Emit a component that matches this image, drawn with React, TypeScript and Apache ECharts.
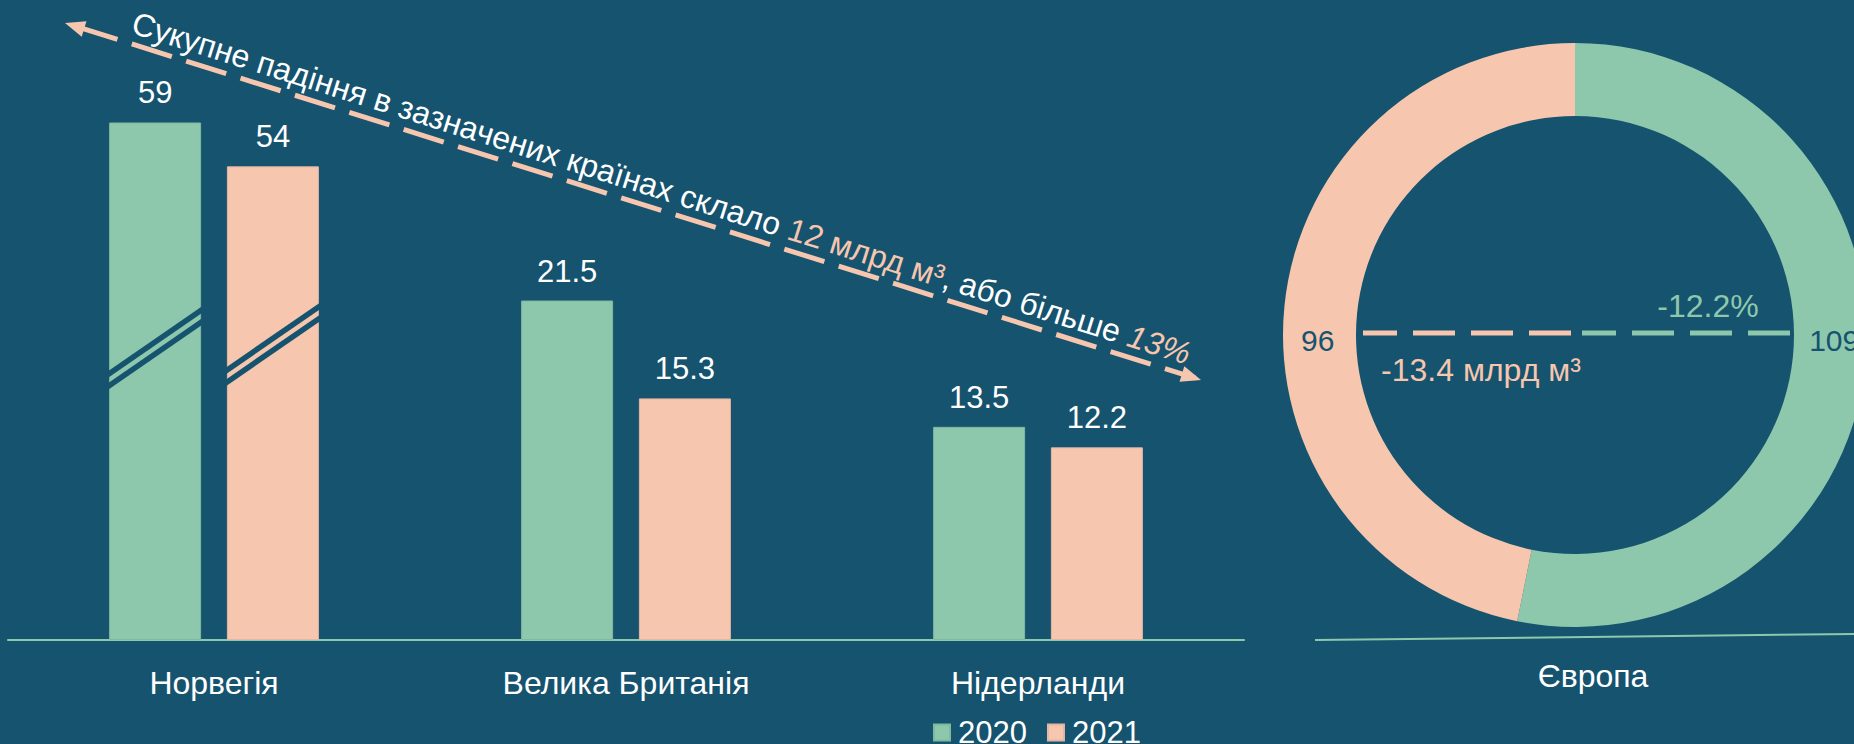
import React, { useEffect, useRef } from 'react';
import * as echarts from 'echarts';

// ---- data ----
const categories = ['Норвегія', 'Велика Британія', 'Нідерланди'];
const years = ['2020', '2021'];
const values2020 = [59, 21.5, 13.5];
const values2021 = [54, 15.3, 12.2];
const europeLabel = 'Європа';
const europeValues = [109, 96]; // 2020, 2021
const europeChangeAbs = '-13.4 млрд м³';
const europeChangePct = '-12.2%';
const annotationParts = ['Сукупне падіння в зазначених країнах склало ', '12 млрд м³', ', або більше ', '13%'];

// ---- styles ----
const BG = '#15536f';
const GREEN = '#8dc8ad';
const PEACH = '#f7c6ae';
const WHITE = '#ffffff';
const FONT = "'Liberation Sans', Arial, Helvetica, sans-serif";
const FS = 32;

const BAR_W = 92;
const PIE_CX = 1575;
const PIE_CY = 335;
const PIE_R0 = 219;
const PIE_R1 = 292;
const BREAK_AT = [33.3, 33.7];

function barLabel() {
  return { show: true, position: 'top', distance: 14, color: WHITE, fontSize: 31, fontFamily: FONT };
}

function catAxis(gridIndex: number, data: string[]) {
  return {
    type: 'category',
    gridIndex,
    data,
    axisLine: { show: true, lineStyle: { color: GREEN, width: 2 } },
    axisTick: { show: false },
    axisLabel: { color: WHITE, fontSize: FS, fontFamily: FONT, margin: 27 },
    splitLine: { show: false },
  };
}

function arrowHead(tx: number, ty: number, dx: number, dy: number, L: number, w: number) {
  const nx = -dy, ny = dx;
  const bx = tx + dx * L, by = ty + dy * L;
  return {
    type: 'polygon',
    silent: true,
    shape: { points: [[tx, ty], [bx + nx * w, by + ny * w], [bx - nx * w, by - ny * w]] },
    style: { fill: PEACH },
  };
}

export default function App() {
  const ref = useRef<HTMLDivElement>(null);

  useEffect(() => {
    if (!ref.current) return;
    const chart = echarts.init(ref.current, null, { renderer: 'svg' });

    const barCommon = { type: 'bar', barWidth: BAR_W, barGap: '28%' };
    const option: any = {
      animation: false,
      backgroundColor: BG,
      grid: [
        { left: 8, top: 26, width: 412, height: 614 },
        { left: 420, top: 40, width: 824, height: 600 },
      ],
      xAxis: [catAxis(0, categories.slice(0, 1)), catAxis(1, categories.slice(1))],
      yAxis: [
        { type: 'value', gridIndex: 0, min: 0, max: 70, show: false, splitLine: { show: false } },
        { type: 'value', gridIndex: 1, min: 0, max: 38, show: false, splitLine: { show: false } },
      ],
      legend: {
        data: years,
        left: 933,
        top: 717,
        padding: 0,
        icon: 'rect',
        itemWidth: 16,
        itemHeight: 16,
        itemGap: 20,
        selectedMode: false,
        textStyle: { color: WHITE, fontSize: 31, fontFamily: FONT, padding: [0, 0, 0, 3] },
      },
      series: [
        { ...barCommon, name: years[0], xAxisIndex: 0, yAxisIndex: 0, data: values2020.slice(0, 1),
          itemStyle: { color: GREEN, borderColor: '#7fb99f', borderWidth: 1 }, label: barLabel() },
        { ...barCommon, name: years[1], xAxisIndex: 0, yAxisIndex: 0, data: values2021.slice(0, 1),
          itemStyle: { color: PEACH, borderColor: '#e3b7a3', borderWidth: 1 }, label: barLabel() },
        { ...barCommon, name: years[0], xAxisIndex: 1, yAxisIndex: 1, data: values2020.slice(1),
          itemStyle: { color: GREEN, borderColor: '#7fb99f', borderWidth: 1 }, label: barLabel() },
        { ...barCommon, name: years[1], xAxisIndex: 1, yAxisIndex: 1, data: values2021.slice(1),
          itemStyle: { color: PEACH, borderColor: '#e3b7a3', borderWidth: 1 }, label: barLabel() },
        {
          type: 'pie',
          silent: true,
          center: [PIE_CX, PIE_CY],
          radius: [PIE_R0, PIE_R1],
          startAngle: 90,
          clockwise: true,
          avoidLabelOverlap: false,
          labelLine: { show: false },
          label: { show: true, position: 'inside', formatter: '{c}', color: BG, fontSize: 30, fontFamily: FONT },
          data: [
            { name: years[0], value: europeValues[0], itemStyle: { color: GREEN }, label: { offset: [2, -20] } },
            { name: years[1], value: europeValues[1], itemStyle: { color: PEACH }, label: { offset: [0, 31] } },
          ],
        },
      ],
    };
    chart.setOption(option);

    // graphics (annotations)
    const graphics: any[] = [];

    // Norway break marks
    const xc = chart.convertToPixel({ xAxisIndex: 0 } as any, categories[0]) as number;
    const half = (BAR_W + BAR_W * 0.28) / 2;
    [-half, half].forEach((off, i) => {
      const cx = xc + off;
      const ym = chart.convertToPixel({ yAxisIndex: 0 } as any, BREAK_AT[i]) as number;
      const ext = BAR_W / 2 + 4;
      const slope = 0.69;
      [-6, 6].forEach((dy) => {
        graphics.push({
          type: 'line',
          silent: true,
          z: 100,
          shape: { x1: cx - ext, y1: ym + dy + ext * slope, x2: cx + ext, y2: ym + dy - ext * slope },
          style: { stroke: BG, lineWidth: 5.5 },
        });
      });
    });

    // big dashed arrow
    const ax1 = 65, ay1 = 23, ax2 = 1201, ay2 = 380;
    const len = Math.hypot(ax2 - ax1, ay2 - ay1);
    const ux = (ax2 - ax1) / len, uy = (ay2 - ay1) / len;
    graphics.push({
      type: 'line', silent: true, z: 50,
      shape: { x1: ax1 + ux * 6, y1: ay1 + uy * 6, x2: ax2 - ux * 6, y2: ay2 - uy * 6 },
      style: { stroke: PEACH, lineWidth: 5, lineDash: [42, 15], lineDashOffset: 50 },
    });
    graphics.push({ ...arrowHead(ax1, ay1, ux, uy, 20, 8), z: 51 });
    graphics.push({ ...arrowHead(ax2, ay2, -ux, -uy, 20, 8), z: 51 });

    const ang = Math.atan2(ay2 - ay1, ax2 - ax1);
    graphics.push({
      type: 'text', silent: true, z: 52,
      x: 133, y: 22, rotation: -ang,
      style: {
        text: `{w|${annotationParts[0]}}{p|${annotationParts[1]}}{w|${annotationParts[2]}}{pi|${annotationParts[3]}}`,
        align: 'left',
        verticalAlign: 'middle',
        rich: {
          w: { fill: WHITE, fontSize: FS, fontFamily: FONT },
          p: { fill: PEACH, fontSize: FS, fontFamily: FONT },
          pi: { fill: PEACH, fontSize: FS, fontFamily: FONT, fontStyle: 'italic' },
        },
      },
    });

    // donut inner dashed line and texts
    const ly = PIE_CY - 2;
    graphics.push({
      type: 'line', silent: true, z: 50,
      shape: { x1: PIE_CX - PIE_R0 + 7, y1: ly, x2: PIE_CX - 2, y2: ly },
      style: { stroke: PEACH, lineWidth: 5, lineDash: [42, 16], lineDashOffset: 8 },
    });
    graphics.push({
      type: 'line', silent: true, z: 50,
      shape: { x1: PIE_CX + 7, y1: ly, x2: PIE_CX + PIE_R0 - 1, y2: ly },
      style: { stroke: GREEN, lineWidth: 5, lineDash: [42, 16], lineDashOffset: 8 },
    });
    graphics.push({
      type: 'text', silent: true, z: 52, x: 1708, y: 306,
      style: { text: europeChangePct, fill: GREEN, fontSize: FS, fontFamily: FONT, align: 'center', verticalAlign: 'middle' },
    });
    graphics.push({
      type: 'text', silent: true, z: 52, x: 1481, y: 370,
      style: { text: europeChangeAbs, fill: PEACH, fontSize: FS, fontFamily: FONT, align: 'center', verticalAlign: 'middle' },
    });
    graphics.push({
      type: 'text', silent: true, z: 52, x: 1593, y: 676,
      style: { text: europeLabel, fill: WHITE, fontSize: FS, fontFamily: FONT, align: 'center', verticalAlign: 'middle' },
    });
    graphics.push({
      type: 'line', silent: true, z: 50,
      shape: { x1: 1315, y1: 640, x2: 1854, y2: 634 },
      style: { stroke: GREEN, lineWidth: 2 },
    });

    chart.setOption({ graphic: graphics });

    return () => chart.dispose();
  }, []);

  return (
    <div
      ref={ref}
      style={{ position: 'fixed', left: 0, top: 0, width: 1854, height: 744, background: BG }}
    />
  );
}
